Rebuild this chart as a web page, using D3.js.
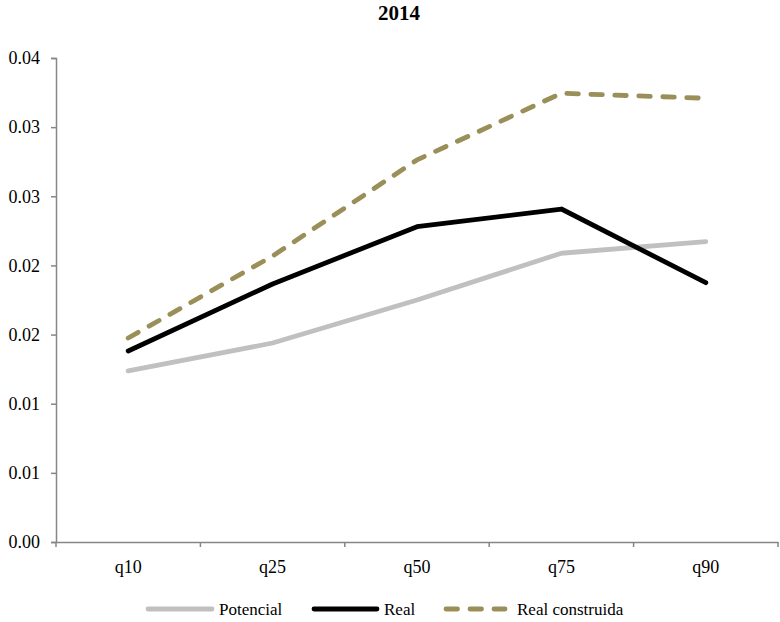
<!DOCTYPE html>
<html>
<head>
<meta charset="utf-8">
<script src="https://cdn.jsdelivr.net/npm/d3@7"></script>
<style>
  html, body { margin: 0; padding: 0; background: #fff; }
  svg { display: block; font-family: "Liberation Serif", "Times New Roman", serif; }
</style>
</head>
<body>
<svg id="chart" width="780" height="622"></svg>
<script>
// Quantile categories and series values
const categories = ["q10", "q25", "q50", "q75", "q90"];
const potencial = [0.01237, 0.01439, 0.01750, 0.02088, 0.02172];
const real = [0.01381, 0.01866, 0.02280, 0.02408, 0.01875];
const realConstruida = [0.01475, 0.02068, 0.02763, 0.03245, 0.03209];
const yTicks = [0, 0.005, 0.01, 0.015, 0.02, 0.025, 0.03, 0.035];
const seriesNames = ["Potencial", "Real", "Real construida"];
const title = "2014";

const series = [
  { name: seriesNames[0], values: potencial, color: "#c0c0c0", dash: null },
  { name: seriesNames[1], values: real, color: "#000000", dash: null },
  { name: seriesNames[2], values: realConstruida, color: "#9a8f58", dash: "11.5,12.5" }
];

const svg = d3.select("#chart");
const plotLeft = 56, plotRight = 778, plotTop = 58, plotBottom = 542;

const x = d3.scaleBand().domain(categories).range([plotLeft, plotRight]).paddingInner(0).paddingOuter(0);
const y = d3.scaleLinear().domain([0, 0.035]).range([plotBottom, plotTop]);

// round half up to two decimals for tick labels
const fmt = v => (Math.round(v * 100 + 1e-9) / 100).toFixed(2);

// Title
svg.append("text")
  .attr("x", 399).attr("y", 20)
  .attr("text-anchor", "middle")
  .attr("font-weight", "bold")
  .attr("font-size", 21)
  .text(title);

// Y axis
const yAxis = svg.append("g")
  .attr("transform", `translate(${plotLeft},0)`)
  .call(d3.axisLeft(y).tickValues(yTicks).tickFormat(fmt).tickSize(5).tickPadding(11));
yAxis.select(".domain").attr("stroke", "#868686").attr("stroke-width", 1.5);
yAxis.selectAll(".tick line").attr("stroke", "#868686").attr("stroke-width", 1.5);
yAxis.selectAll(".tick text").attr("font-size", 18).attr("fill", "#000")
  .attr("font-family", "Liberation Serif, serif");

// X axis: category labels at band centres, tick marks at band edges
const xAxis = svg.append("g")
  .attr("transform", `translate(0,${plotBottom})`)
  .call(d3.axisBottom(x).tickSize(0).tickPadding(18));
xAxis.select(".domain").attr("stroke", "#868686").attr("stroke-width", 1.5);
xAxis.selectAll(".tick text").attr("font-size", 18).attr("fill", "#000")
  .attr("font-family", "Liberation Serif, serif");
const edges = d3.range(categories.length + 1).map(i => plotLeft + i * x.step());
xAxis.selectAll(".edge")
  .data(edges)
  .enter().append("line")
  .attr("class", "edge")
  .attr("x1", d => d).attr("x2", d => d)
  .attr("y1", 0).attr("y2", 5)
  .attr("stroke", "#868686").attr("stroke-width", 1.5);

// Lines
const line = d3.line()
  .x((d, i) => x(categories[i]) + x.bandwidth() / 2)
  .y(d => y(d));

svg.append("g").selectAll("path")
  .data(series)
  .enter().append("path")
  .attr("d", s => line(s.values))
  .attr("fill", "none")
  .attr("stroke", s => s.color)
  .attr("stroke-width", 4.8)
  .attr("stroke-linejoin", "round")
  .attr("stroke-linecap", "round")
  .attr("stroke-dasharray", s => s.dash);

// Legend
const legendItems = [
  { x1: 148, x2: 212, tx: 219 },
  { x1: 314, x2: 377, tx: 384 },
  { x1: 446, x2: 505, tx: 517 }
];
const legend = svg.append("g").attr("transform", "translate(0,609)");
legend.selectAll("line")
  .data(series)
  .enter().append("line")
  .attr("x1", (s, i) => legendItems[i].x1)
  .attr("x2", (s, i) => legendItems[i].x2)
  .attr("y1", 0).attr("y2", 0)
  .attr("stroke", s => s.color)
  .attr("stroke-width", 4.8)
  .attr("stroke-linecap", "round")
  .attr("stroke-dasharray", s => s.dash);
legend.selectAll("text")
  .data(series)
  .enter().append("text")
  .attr("x", (s, i) => legendItems[i].tx)
  .attr("y", 0)
  .attr("dy", "0.33em")
  .attr("font-size", 17)
  .text(s => s.name);
</script>
</body>
</html>
